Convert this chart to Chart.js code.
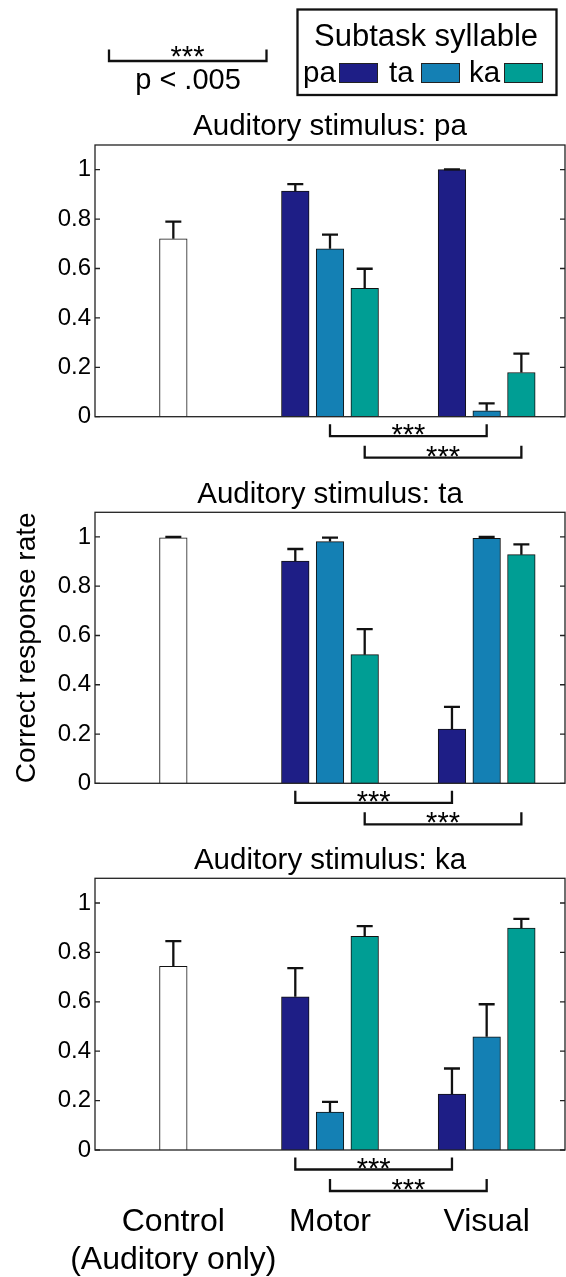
<!DOCTYPE html>
<html>
<head>
<meta charset="utf-8">
<script src="https://cdn.jsdelivr.net/npm/chart.js@4.4.1/dist/chart.umd.min.js"></script>
<style>
  body { margin: 0; background: #fff; }
  #wrap { position: relative; width: 566px; height: 1277px; }
  canvas { position: absolute; left: 0; }
</style>
</head>
<body>
<div id="wrap">
  <canvas id="panelPa" width="566" height="475" style="top:0px"></canvas>
  <canvas id="panelTa" width="566" height="365" style="top:475px"></canvas>
  <canvas id="panelKa" width="566" height="437" style="top:840px"></canvas>
</div>
<script>
// categories
const groupLabels = [["Control", "(Auditory only)"], "Motor", "Visual"];
const syllables = ["pa", "ta", "ka"];
const yTicks = [0, 0.2, 0.4, 0.6, 0.8, 1];

// control (auditory only) per stimulus pa / ta / ka
const controlMean = [0.72, 0.996, 0.744];
const controlErr = [0.07, 0.004, 0.102];

// stimulus pa: subtask syllable pa / ta / ka
const paMotor = [0.913, 0.68, 0.52];
const paMotorErr = [0.029, 0.057, 0.079];
const paVisual = [1.0, 0.024, 0.179];
const paVisualErr = [0.001, 0.03, 0.076];
const paSig = ["ta", "ka"];

// stimulus ta
const taMotor = [0.902, 0.981, 0.522];
const taMotorErr = [0.049, 0.016, 0.104];
const taVisual = [0.22, 0.994, 0.928];
const taVisualErr = [0.09, 0.006, 0.042];
const taSig = ["pa", "ka"];

// stimulus ka
const kaMotor = [0.62, 0.154, 0.865];
const kaMotorErr = [0.116, 0.041, 0.041];
const kaVisual = [0.226, 0.458, 0.898];
const kaVisualErr = [0.104, 0.132, 0.038];
const kaSig = ["pa", "ta"];

const colors = ["#1e1e86", "#1480b4", "#009e94"];
const offsets = [-0.2215, 0, 0.2215]; // bar offset inside a group (x units)

const FONT = '"Liberation Sans", Arial, sans-serif';
Chart.defaults.font.family = FONT;
Chart.defaults.color = "#000";

function drawBracket(ctx, x1, x2, yLine, legs) {
  ctx.beginPath();
  ctx.moveTo(x1, yLine - legs);
  ctx.lineTo(x1, yLine);
  ctx.lineTo(x2, yLine);
  ctx.lineTo(x2, yLine - legs);
  ctx.stroke();
}

const errorBars = {
  id: "errorBars",
  afterDatasetsDraw(chart) {
    const { ctx } = chart;
    const y = chart.scales.y;
    ctx.save();
    ctx.strokeStyle = "#111";
    ctx.lineWidth = 2.3;
    chart.data.datasets.forEach((ds, i) => {
      chart.getDatasetMeta(i).data.forEach((bar, j) => {
        const top = y.getPixelForValue(ds.data[j].y + ds.errors[j]);
        ctx.beginPath();
        ctx.moveTo(bar.x, bar.y);
        ctx.lineTo(bar.x, top);
        ctx.moveTo(bar.x - 8, top);
        ctx.lineTo(bar.x + 8, top);
        ctx.stroke();
      });
    });
    ctx.restore();
  },
};

const frame = {
  id: "frame",
  afterDraw(chart) {
    const { ctx, chartArea: a } = chart;
    const y = chart.scales.y;
    ctx.save();
    ctx.strokeStyle = "#222";
    ctx.lineWidth = 1.3;
    ctx.strokeRect(a.left, a.top, a.right - a.left, a.bottom - a.top);
    ctx.beginPath();
    yTicks.forEach((v) => {
      const py = y.getPixelForValue(v);
      ctx.moveTo(a.left, py);
      ctx.lineTo(a.left + 5, py);
      ctx.moveTo(a.right, py);
      ctx.lineTo(a.right - 5, py);
    });
    ctx.stroke();
    ctx.restore();
  },
};

// header: p-value key and the legend (drawn on the first panel)
const header = {
  id: "header",
  afterDraw(chart) {
    const { ctx } = chart;
    ctx.save();
    ctx.strokeStyle = "#111";
    ctx.fillStyle = "#000";
    ctx.lineWidth = 2.3;
    drawBracket(ctx, 109, 266.5, 61, 11.5);
    ctx.textAlign = "center";
    ctx.textBaseline = "alphabetic";
    ctx.font = "29px " + FONT;
    ctx.fillText("***", 187.5, 66);
    ctx.fillText("p < .005", 188, 89);

    ctx.lineWidth = 2.3;
    ctx.strokeRect(297.5, 9.5, 259, 85.5);
    ctx.font = "31px " + FONT;
    ctx.fillText("Subtask syllable", 426, 46);

    ctx.font = "29.5px " + FONT;
    ctx.textAlign = "left";
    const textX = [303, 389, 469];
    const boxX = [339.5, 421.5, 504.5];
    syllables.forEach((s, i) => {
      ctx.fillStyle = "#000";
      ctx.fillText(s, textX[i], 81.5);
      ctx.fillStyle = colors[i];
      ctx.fillRect(boxX[i], 63.5, 38, 19);
      ctx.lineWidth = 1;
      ctx.strokeStyle = "#222";
      ctx.strokeRect(boxX[i], 63.5, 38, 19);
    });
    ctx.restore();
  },
};

function makePanel(id, stim, k, motor, motorErr, visual, visualErr, sig, layout) {
  const datasets = [
    {
      label: "Control",
      data: [{ x: 1, y: controlMean[k] }],
      errors: [controlErr[k]],
      backgroundColor: "#fff",
    },
  ];
  syllables.forEach((s, i) => {
    datasets.push({
      label: s,
      data: [
        { x: 2 + offsets[i], y: motor[i] },
        { x: 3 + offsets[i], y: visual[i] },
      ],
      errors: [motorErr[i], visualErr[i]],
      backgroundColor: colors[i],
    });
  });
  datasets.forEach((ds) => {
    ds.borderColor = "#111";
    ds.borderWidth = 1;
    ds.barThickness = 27.6;
    ds.grouped = false;
  });

  const significance = {
    id: "significance",
    afterDraw(chart) {
      const { ctx } = chart;
      const x = chart.scales.x;
      const y0 = chart.scales.y.getPixelForValue(0);
      ctx.save();
      ctx.strokeStyle = "#111";
      ctx.fillStyle = "#000";
      ctx.lineWidth = 2.3;
      ctx.font = "29px " + FONT;
      ctx.textAlign = "center";
      [19.5, 41].forEach((drop, n) => {
        const i = syllables.indexOf(sig[n]);
        const x1 = x.getPixelForValue(2 + offsets[i]);
        const x2 = x.getPixelForValue(3 + offsets[i]);
        drawBracket(ctx, x1, x2, y0 + drop, 12);
        ctx.fillText("***", (x1 + x2) / 2, y0 + drop + 8);
      });
      ctx.restore();
    },
  };

  const canvas = document.getElementById(id);
  const areaTop = layout.top - layout.canvasTop;
  const areaBottom = layout.bottom - layout.canvasTop;

  return new Chart(canvas.getContext("2d"), {
    type: "bar",
    data: { datasets },
    options: {
      responsive: false,
      animation: false,
      layout: { padding: { left: 0, right: 1, top: 0, bottom: 0 } },
      plugins: {
        legend: { display: false },
        tooltip: { enabled: false },
        title: {
          display: true,
          text: "Auditory stimulus: " + stim,
          fullSize: false,
          color: "#000",
          font: { size: 29.5, weight: "normal", lineHeight: 1.2 },
          padding: { top: areaTop - 29.5 * 1.2, bottom: 0 },
        },
      },
      scales: {
        x: {
          type: "linear",
          min: 0.5,
          max: 3.5,
          offset: false,
          grid: { display: false, drawTicks: false },
          border: { display: false },
          afterBuildTicks: (s) => {
            s.ticks = [1, 2, 3].map((v) => ({ value: v }));
          },
          afterFit: (s) => {
            s.height = canvas.height - areaBottom;
            s.paddingLeft = 0;
            s.paddingRight = 0;
          },
          ticks: {
            display: layout.xLabels,
            autoSkip: false,
            maxRotation: 0,
            padding: 54,
            font: { size: 32, lineHeight: 1.16 },
            callback: (v) => groupLabels[v - 1],
          },
        },
        y: {
          min: 0,
          max: 1.1,
          grid: { display: false, drawTicks: false },
          border: { display: false },
          afterBuildTicks: (s) => {
            s.ticks = yTicks.map((v) => ({ value: v }));
          },
          afterFit: (s) => {
            s.width = 95;
          },
          ticks: {
            padding: 4,
            font: { size: 24 },
            callback: (v) => String(+v.toFixed(1)),
          },
          title: {
            display: layout.yTitle,
            text: "Correct response rate",
            color: "#000",
            font: { size: 28, lineHeight: 1.2 },
            padding: { top: 10, bottom: 0 },
          },
        },
      },
    },
    plugins: [errorBars, significance, frame].concat(layout.header ? [header] : []),
  });
}

makePanel("panelPa", "pa", 0, paMotor, paMotorErr, paVisual, paVisualErr, paSig,
  { canvasTop: 0, top: 145, bottom: 416.7, xLabels: false, yTitle: false, header: true });
makePanel("panelTa", "ta", 1, taMotor, taMotorErr, taVisual, taVisualErr, taSig,
  { canvasTop: 475, top: 512.3, bottom: 783.3, xLabels: false, yTitle: true, header: false });
makePanel("panelKa", "ka", 2, kaMotor, kaMotorErr, kaVisual, kaVisualErr, kaSig,
  { canvasTop: 840, top: 878.3, bottom: 1150, xLabels: true, yTitle: false, header: false });
</script>
</body>
</html>
